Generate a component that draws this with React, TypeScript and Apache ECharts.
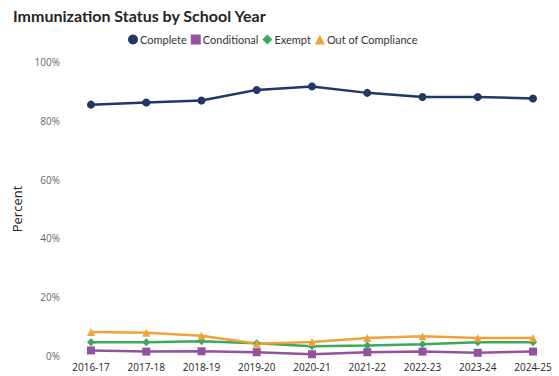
import React, { useEffect, useRef } from "react";
import * as echarts from "echarts";

const categories = ["2016-17", "2017-18", "2018-19", "2019-20", "2020-21", "2021-22", "2022-23", "2023-24", "2024-25"];
const complete = [85.5, 86.2, 86.9, 90.5, 91.7, 89.5, 88.1, 88.1, 87.6];
const conditional = [1.9, 1.5, 1.6, 1.3, 0.6, 1.3, 1.5, 1.1, 1.5];
const exempt = [4.7, 4.7, 5.0, 4.3, 3.3, 3.6, 4.0, 4.7, 4.7];
const outOfCompliance = [8.2, 7.9, 6.9, 4.2, 4.8, 6.1, 6.7, 6.1, 6.1];
const yTicks = [0, 20, 40, 60, 80, 100];

const FONT = "'Open Sans', 'Noto Sans', sans-serif";
const NARROW = "Lato, 'Open Sans', sans-serif";

export default function App() {
  const ref = useRef<HTMLDivElement>(null);
  useEffect(() => {
    if (!ref.current) return;
    const chart = echarts.init(ref.current, undefined, { renderer: "svg" });
    const mk = (name: string, data: number[], color: string, symbol: string, size: number) => ({
      name,
      type: "line",
      data,
      symbol,
      symbolSize: size,
      lineStyle: { width: 2.5, color },
      itemStyle: { color },
      z: name === "Complete" ? 5 : 3,
    });
    chart.setOption({
      animation: false,
      textStyle: { fontFamily: FONT },
      title: {
        text: "Immunization Status by School Year",
        left: 8,
        top: 2,
        textStyle: { fontFamily: NARROW, fontSize: 16, fontWeight: "bold", color: "#252423" },
      },
      legend: {
        top: 29,
        left: 123,
        itemWidth: 10,
        itemHeight: 10,
        itemGap: 4,
        textStyle: { fontFamily: NARROW, fontSize: 11, color: "#333", padding: [0, 0, 0, -3] },
        data: [
          { name: "Complete", icon: "circle" },
          { name: "Conditional", icon: "rect" },
          { name: "Exempt", icon: "diamond" },
          { name: "Out of Compliance", icon: "triangle" },
        ],
      },
      grid: { left: 91, right: 26, top: 62, bottom: 20, containLabel: false },
      xAxis: {
        type: "category",
        data: categories,
        boundaryGap: false,
        axisLine: { show: false },
        axisTick: { show: false },
        axisLabel: { fontFamily: FONT, fontSize: 10, color: "#252423", margin: 6 },
      },
      yAxis: {
        type: "value",
        min: yTicks[0],
        max: yTicks[yTicks.length - 1],
        interval: 20,
        name: "Percent",
        nameLocation: "middle",
        nameGap: 62,
        nameTextStyle: { fontFamily: FONT, fontSize: 13, color: "#252423" },
        splitLine: { show: false },
        axisLine: { show: false },
        axisTick: { show: false },
        axisLabel: { fontFamily: FONT, fontSize: 10, color: "#666666", margin: 31, formatter: "{value}%" },
      },
      series: [
        mk("Complete", complete, "#1F3864", "circle", 8),
        mk("Conditional", conditional, "#94529E", "rect", 8),
        mk("Exempt", exempt, "#3DA75A", "diamond", 8),
        mk("Out of Compliance", outOfCompliance, "#F0A13A", "triangle", 8),
      ],
    });
    return () => chart.dispose();
  }, []);
  return <div ref={ref} style={{ position: "fixed", left: 0, top: 0, width: 559, height: 376, background: "#fff" }} />;
}
